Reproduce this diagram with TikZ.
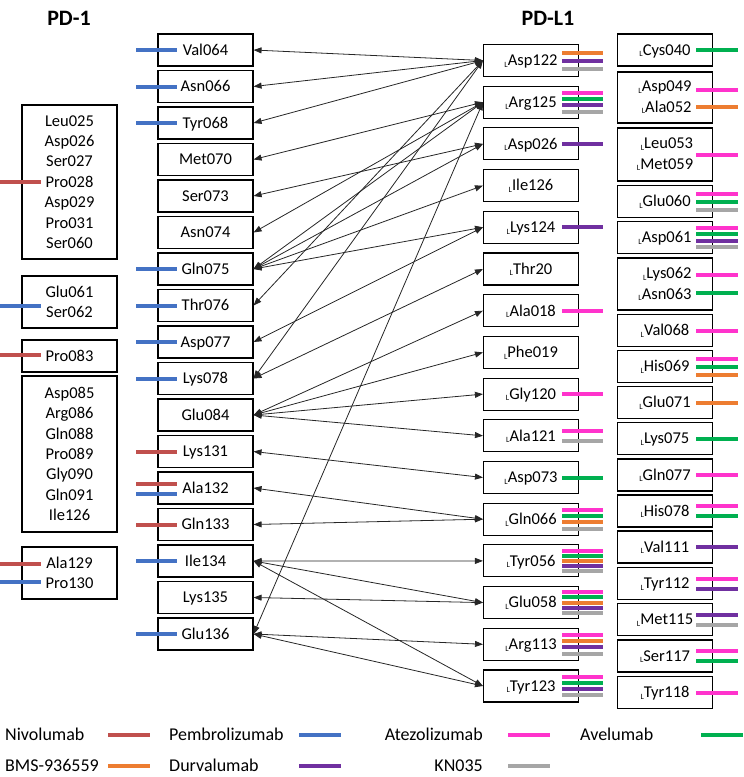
\documentclass[tikz,border=0pt]{standalone}
\usepackage{fontspec}
\setmainfont{Carlito}
\usetikzlibrary{arrows.meta}
\definecolor{nivo}{HTML}{C0504D}
\definecolor{pembro}{HTML}{4472C4}
\definecolor{atezo}{HTML}{FF33CC}
\definecolor{avel}{HTML}{00B050}
\definecolor{bms}{HTML}{ED7D31}
\definecolor{durva}{HTML}{7030A0}
\definecolor{knz}{HTML}{A6A6A6}
\newcommand\Lp{\raisebox{-1.5pt}{\fontsize{8}{8}\selectfont L}}
\newcommand\mybars[4]{%
  \foreach \c [count=\n] in {#4} {\xdef\barn{\n}}%
  \ifcase\barn\or\def\barsp{0}\or\def\barsp{10}\or\def\barsp{8}\or\def\barsp{6.3}\or\def\barsp{5.2}\fi
  \foreach \c [count=\i] in {#4} {\draw[bar,draw=\c] (#1,{#3+(\i-(\barn+1)/2)*\barsp}) -- (#2,{#3+(\i-(\barn+1)/2)*\barsp});}%
}
\begin{document}
\begin{tikzpicture}[x=1pt,y=-1pt,
  txt/.style={font=\fontsize{16.5}{20.4}\selectfont},
  box/.style={txt,draw,line width=1.1pt,minimum width=95pt,minimum height=32pt,inner sep=0pt,text height=10.6pt,text depth=0pt},
  mbox/.style={txt,draw,line width=1.1pt,minimum width=95pt,inner sep=0pt},
  bar/.style={line width=4pt},
  lbar/.style={line width=4.5pt},
  conn/.style={{Triangle[length=8pt,width=6pt]}-{Triangle[length=8pt,width=6pt]},line width=0.8pt,draw=black!85},
  leg/.style={font=\fontsize{18}{20}\selectfont,inner sep=0pt,text height=11.6pt,text depth=0pt},
  head/.style={font=\bfseries\fontsize{22}{24}\selectfont,inner sep=0pt,text height=14.2pt,text depth=0pt}]
\useasboundingbox (0,0) rectangle (744,777);
% headers
\node[head] (h1) at (69,18) {PD-1};
\node[head] (h2) at (548,18) {PD-L1};
% left column
\node[mbox,align=center,minimum height=154pt] (l1) at (69.5,182) {Leu025\\Asp026\\Ser027\\Pro028\\Asp029\\Pro031\\Ser060};
\node[mbox,align=center,minimum height=52pt] (l2) at (69.5,302) {Glu061\\Ser062};
\node[box] (l3) at (69.5,356) {Pro083};
\node[mbox,align=center,minimum height=156pt] (l4) at (69.5,454) {Asp085\\Arg086\\Gln088\\Pro089\\Gly090\\Gln091\\Ile126};
\node[mbox,align=center,minimum height=52pt] (l5) at (69.5,573) {Ala129\\Pro130};
% middle column
\node[box] (m1) at (205.5,50) {Val064};
\node[box] (m2) at (205.5,86.5) {Asn066};
\node[box] (m3) at (205.5,123) {Tyr068};
\node[box] (m4) at (205.5,159.5) {Met070};
\node[box] (m5) at (205.5,196) {Ser073};
\node[box] (m6) at (205.5,232.5) {Asn074};
\node[box] (m7) at (205.5,269) {Gln075};
\node[box] (m8) at (205.5,305.5) {Thr076};
\node[box] (m9) at (205.5,342) {Asp077};
\node[box] (m10) at (205.5,378.5) {Lys078};
\node[box] (m11) at (205.5,415) {Glu084};
\node[box] (m12) at (205.5,451.5) {Lys131};
\node[box] (m13) at (205.5,488) {Ala132};
\node[box] (m14) at (205.5,524.5) {Gln133};
\node[box] (m15) at (205.5,561) {Ile134};
\node[box] (m16) at (205.5,597.5) {Lys135};
\node[box] (m17) at (205.5,634) {Glu136};
% PD-L1 column 1
\node[box] (p1) at (531,60.5) {\Lp Asp122};
\node[box] (p2) at (531,102.2) {\Lp Arg125};
\node[box] (p3) at (531,143.9) {\Lp Asp026};
\node[box] (p4) at (531,185.6) {\Lp Ile126};
\node[box] (p5) at (531,227.3) {\Lp Lys124};
\node[box] (p6) at (531,269) {\Lp Thr20};
\node[box] (p7) at (531,310.7) {\Lp Ala018};
\node[box] (p8) at (531,352.4) {\Lp Phe019};
\node[box] (p9) at (531,394.1) {\Lp Gly120};
\node[box] (p10) at (531,435.8) {\Lp Ala121};
\node[box] (p11) at (531,477.5) {\Lp Asp073};
\node[box] (p12) at (531,519.2) {\Lp Gln066};
\node[box] (p13) at (531,560.9) {\Lp Tyr056};
\node[box] (p14) at (531,602.6) {\Lp Glu058};
\node[box] (p15) at (531,644.3) {\Lp Arg113};
\node[box] (p16) at (531,686) {\Lp Tyr123};
% PD-L1 column 2
\node[box] (q1) at (665,50) {\Lp Cys040};
\node[mbox,align=right,minimum height=51pt] (q2) at (665,97.5) {\Lp Asp049\\\Lp Ala052};
\node[mbox,align=right,minimum height=53pt] (q3) at (665,154.5) {\Lp Leu053\\\Lp Met059};
\node[box] (q4) at (665,201.5) {\Lp Glu060};
\node[box] (q5) at (665,237.5) {\Lp Asp061};
\node[mbox,align=right,minimum height=52pt] (q6) at (665,284) {\Lp Lys062\\\Lp Asn063};
\node[box] (q7) at (665,330.5) {\Lp Val068};
\node[box] (q8) at (665,366.5) {\Lp His069};
\node[box] (q9) at (665,402.5) {\Lp Glu071};
\node[box] (q10) at (665,438.5) {\Lp Lys075};
\node[box] (q11) at (665,475) {\Lp Gln077};
\node[box] (q12) at (665,511) {\Lp His078};
\node[box] (q13) at (665,547) {\Lp Val111};
\node[box] (q14) at (665,583.5) {\Lp Tyr112};
\node[box] (q15) at (665,619.5) {\Lp Met115};
\node[box] (q16) at (665,656) {\Lp Ser117};
\node[box] (q17) at (665,692.5) {\Lp Tyr118};
% connectors
\foreach \a/\b in {m1/p1,m2/p1,m3/p1,m4/p2,m5/p3,m6/p2,m7/p2,m7/p3,m7/p4,m7/p5,m8/p1,m9/p5,m10/p1,m10/p6,m11/p7,m11/p8,m11/p9,m11/p10,m12/p11,m13/p12,m14/p12,m15/p13,m15/p14,m15/p16,m16/p14,m17/p15,m17/p16,m17/p2}
  \draw[conn] (\a.east) -- (\b.west);
% bars left column
\mybars{0}{41}{182}{nivo}
\mybars{0}{41}{306}{pembro}
\mybars{0}{41}{355}{nivo}
\mybars{0}{41}{564}{nivo}
\mybars{0}{41}{582}{pembro}
% bars middle column
\mybars{136}{177}{50}{pembro}
\mybars{136}{177}{86.5}{pembro}
\mybars{136}{177}{123}{pembro}
\mybars{136}{177}{269}{pembro}
\mybars{136}{177}{305.5}{pembro}
\mybars{136}{177}{342}{pembro}
\mybars{136}{177}{378.5}{pembro}
\mybars{136}{177}{451.5}{nivo}
\mybars{136}{177}{489}{nivo,pembro}
\mybars{136}{177}{524.5}{nivo}
\mybars{136}{177}{561}{pembro}
\mybars{136}{177}{634}{pembro}
% bars PD-L1 column 1
\mybars{562}{603}{60.5}{bms,durva,knz}
\mybars{562}{603}{102.2}{atezo,avel,durva,knz}
\mybars{562}{603}{143.9}{durva}
\mybars{562}{603}{227.3}{durva}
\mybars{562}{603}{310.7}{atezo}
\mybars{562}{603}{394.1}{atezo}
\mybars{562}{603}{435.8}{atezo,knz}
\mybars{562}{603}{477.5}{avel}
\mybars{562}{603}{519.2}{atezo,avel,bms,knz}
\mybars{562}{603}{560.9}{atezo,avel,bms,durva,knz}
\mybars{562}{603}{602.6}{atezo,avel,bms,durva,knz}
\mybars{562}{603}{644.3}{atezo,bms,durva,knz}
\mybars{562}{603}{686}{atezo,avel,durva,knz}
% bars PD-L1 column 2
\mybars{696}{738}{50}{avel}
\mybars{696}{738}{90}{atezo}
\mybars{696}{738}{107}{bms}
\mybars{696}{738}{155}{atezo}
\mybars{696}{738}{201.5}{atezo,avel,knz}
\mybars{696}{738}{237.5}{atezo,avel,durva,knz}
\mybars{696}{738}{275}{atezo}
\mybars{696}{738}{292.5}{avel}
\mybars{696}{738}{330.5}{atezo}
\mybars{696}{738}{366.5}{atezo,avel,bms}
\mybars{696}{738}{402.5}{bms}
\mybars{696}{738}{438.5}{avel}
\mybars{696}{738}{475}{atezo}
\mybars{696}{738}{511}{atezo,avel}
\mybars{696}{738}{547}{durva}
\mybars{696}{738}{583.5}{atezo,durva}
\mybars{696}{738}{619.5}{durva,knz}
\mybars{696}{738}{656}{atezo,avel}
\mybars{696}{738}{692.5}{atezo}
% legend
\node[leg,anchor=west] (g1) at (5,735) {Nivolumab};
\node[leg,anchor=west] (g2) at (169,735) {Pembrolizumab};
\node[leg,anchor=east] (g3) at (483,735) {Atezolizumab};
\node[leg,anchor=west] (g4) at (580,735) {Avelumab};
\node[leg,anchor=west] (g5) at (5,766) {BMS-936559};
\node[leg,anchor=west] (g6) at (169,766) {Durvalumab};
\node[leg,anchor=east] (g7) at (483,766) {KN035};
\draw[lbar,nivo] (108,735) -- (150,735);
\draw[lbar,pembro] (299,735) -- (341,735);
\draw[lbar,atezo] (508,735) -- (550,735);
\draw[lbar,avel] (701,735) -- (743,735);
\draw[lbar,bms] (108,766) -- (150,766);
\draw[lbar,durva] (299,766) -- (341,766);
\draw[lbar,knz] (508,766) -- (550,766);
\end{tikzpicture}
\end{document}
